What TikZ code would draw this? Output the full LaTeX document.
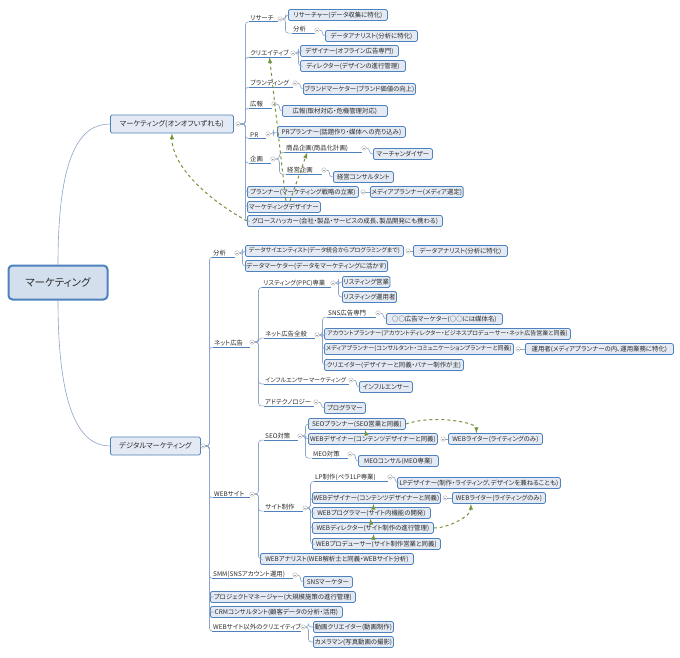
\documentclass[tikz,border=0pt]{standalone}
\usepackage{fontspec}
\setmainfont{Noto Sans CJK JP}[RawFeature=+palt]
\usetikzlibrary{calc,arrows}

\definecolor{boxline}{HTML}{4F81BD}
\definecolor{boxfill}{HTML}{E3EAF3}
\definecolor{linkline}{HTML}{8DA5C8}
\definecolor{relgreen}{HTML}{77933C}
\definecolor{txtgray}{HTML}{2B2B2B}

\tikzset{
  box/.style={draw=boxline, fill=boxfill, rounded corners=1.5pt, line width=0.8pt,
    inner sep=1pt, minimum height=11pt, anchor=west, text=txtgray,
    font=\fontsize{6.4}{7}\selectfont},
  mainbox/.style={box, minimum height=18pt, font=\fontsize{7.3}{8}\selectfont},
  rootbox/.style={draw=boxline, fill=boxfill!90!boxline, rounded corners=4pt, line width=2pt,
    minimum width=99pt, minimum height=34pt, text=txtgray, font=\fontsize{10.5}{12}\selectfont},
  lbl/.style={inner sep=1pt, anchor=west, text=txtgray, font=\fontsize{6.4}{7}\selectfont},
  tight/.style={font=\fontsize{6}{7}\selectfont},
  tog/.style={circle, draw=gray!60, fill=white, minimum size=4.5pt, inner sep=0pt, line width=0.4pt,
    path picture={\draw[gray!70, line width=0.4pt] ([xshift=1pt]path picture bounding box.west)
      -- ([xshift=-1pt]path picture bounding box.east);}},
  conn/.style={draw=linkline, line width=0.6pt, rounded corners=3pt},
  uline/.style={draw=boxline, line width=0.8pt},
  rel/.style={draw=relgreen, dashed, line width=1pt, ->}
}

\begin{document}
\begin{tikzpicture}[x=1pt,y=-1pt,>=latex]
  \path[use as bounding box, fill=white] (0,0) rectangle (680,657);

  % root and main branches
  \node[rootbox] (root) at (58,282.5) {マーケティング};
  \node[mainbox, minimum width=123pt] (mkt) at (110,124) {マーケティング(オンオフいずれも)};
  \node[tog] (tMkt) at (238,124) {};
  \node[mainbox, minimum width=90pt] (dgt) at (110,446) {デジタルマーケティング};
  \node[tog] (tDgt) at (203,446) {};
  \draw[conn] (root.north) .. controls +(0,-110) and +(-30,0) .. (mkt.west);
  \draw[conn] (root.south) .. controls +(0,110) and +(-30,0) .. (dgt.west);

  % marketing (on/off)
  \node[lbl] (lRes) at (249,18) {リサーチ};
  \node[tog] (tRes) at (280,19) {};
  \node[box, minimum width=99pt] (rsch) at (288,15) {リサーチャー(データ収集に特化)};
  \node[lbl] (lAna) at (292,29) {分析};
  \node[tog] (tAna) at (317,30) {};
  \node[box, minimum width=92pt] (anl) at (325,36) {データアナリスト(分析に特化)};
  \node[lbl] (lCre) at (249,53) {クリエイティブ};
  \node[tog] (tCre) at (293,53) {};
  \node[box, minimum width=98pt] (dsn) at (300,51) {デザイナー(オフライン広告専門)};
  \node[box, minimum width=105pt] (drc) at (300,66) {ディレクター(デザインの進行管理)};
  \node[lbl] (lBrd) at (249,83) {ブランディング};
  \node[tog] (tBrd) at (295,83) {};
  \node[box, minimum width=112pt] (bmk) at (303,89) {ブランドマーケター(ブランド価値の向上)};
  \node[lbl] (lPub) at (249,104) {広報};
  \node[tog] (tPub) at (274,104) {};
  \node[box, minimum width=105pt] (pub) at (282,111) {広報(取材対応・危機管理対応)};
  \node[lbl] (lPr) at (249,135) {PR};
  \node[tog] (tPr) at (268,134) {};
  \node[box, minimum width=128pt] (prp) at (277,132) {PRプランナー(話題作り・媒体への売り込み)};
  \node[lbl] (lPln) at (249,159) {企画};
  \node[tog] (tPln) at (273,159) {};
  \node[lbl] (lPrd) at (285,148) {商品企画(商品化計画)};
  \node[tog] (tPrd) at (364,148) {};
  \node[box, minimum width=59pt] (mch) at (373,154) {マーチャンダイザー};
  \node[lbl] (lMgt) at (286,170) {経営企画};
  \node[tog] (tMgt) at (324,170) {};
  \node[box, minimum width=60pt] (mcs) at (333,177) {経営コンサルタント};
  \node[box, minimum width=111pt] (pln) at (247,192) {プランナー(マーケティング戦略の立案)};
  \node[tog] (tPlr) at (363,192) {};
  \node[box, minimum width=92pt] (mdp) at (370,192) {メディアプランナー(メディア選定)};
  \node[box, minimum width=73pt] (mkd) at (247,207) {マーケティングデザイナー};
  \node[box, minimum width=195pt] (grw) at (247,221) {グロースハッカー(会社・製品・サービスの成長、製品開発にも携わる)};

  \draw[conn] (tMkt.east) -- ++(5,0) |- (lRes.south west);
  \draw[conn] (tMkt.east) -- ++(5,0) |- (lCre.south west);
  \draw[conn] (tMkt.east) -- ++(5,0) |- (lBrd.south west);
  \draw[conn] (tMkt.east) -- ++(5,0) |- (lPub.south west);
  \draw[conn] (tMkt.east) -- ++(5,0) |- (lPr.south west);
  \draw[conn] (tMkt.east) -- ++(5,0) |- (lPln.south west);
  \draw[conn] (tMkt.east) -- ++(5,0) |- (pln.west);
  \draw[conn] (tMkt.east) -- ++(5,0) |- (mkd.west);
  \draw[conn] (tMkt.east) -- ++(5,0) |- (grw.west);
  \draw[conn] (tRes.east) -- ++(3,0) |- (rsch.west);
  \draw[conn] (tRes.east) -- ++(3,0) |- (lAna.south west);
  \draw[conn] (tAna.east) -- ++(3,0) |- (anl.west);
  \draw[conn] (tCre.east) -- ++(3,0) |- (dsn.west);
  \draw[conn] (tCre.east) -- ++(3,0) |- (drc.west);
  \draw[conn] (tBrd.east) -- ++(3,0) |- (bmk.west);
  \draw[conn] (tPub.east) -- ++(3,0) |- (pub.west);
  \draw[conn] (tPr.east) -- ++(3,0) |- (prp.west);
  \draw[conn] (tPln.east) -- ++(4,0) |- (lPrd.south west);
  \draw[conn] (tPln.east) -- ++(4,0) |- (lMgt.south west);
  \draw[conn] (tPrd.east) -- ++(3,0) |- (mch.west);
  \draw[conn] (tMgt.east) -- ++(3,0) |- (mcs.west);
  \draw[conn] (tPlr.east) -- (mdp.west);

  \draw[uline] (lRes.south west) -- (lRes.south west -| tRes.west);
  \draw[uline] (lAna.south west) -- (lAna.south west -| tAna.west);
  \draw[uline] (lCre.south west) -- (lCre.south west -| tCre.west);
  \draw[uline] (lBrd.south west) -- (lBrd.south west -| tBrd.west);
  \draw[uline] (lPub.south west) -- (lPub.south west -| tPub.west);
  \draw[uline] (lPr.south west) -- (lPr.south west -| tPr.west);
  \draw[uline] (lPln.south west) -- (lPln.south west -| tPln.west);
  \draw[uline] (lPrd.south west) -- (lPrd.south west -| tPrd.west);
  \draw[uline] (lMgt.south west) -- (lMgt.south west -| tMgt.west);

  \draw[rel] ([xshift=2pt]mkd.north) -- (lCre.south);
  \draw[rel] ([xshift=6pt]mkd.north) -- ([xshift=-10pt]lPrd.south);
  \draw[rel] (grw.west) .. controls +(-45,-25) and +(0,30) .. (mkt.south);

  % digital marketing
  \node[lbl] (lDan) at (212,253) {分析};
  \node[tog] (tDan) at (237,253) {};
  \node[box, tight, minimum width=158pt] (dsc) at (245,251) {データサイエンティスト(データ統合からプログラミングまで)};
  \node[tog] (tDsc) at (408,251) {};
  \node[box, minimum width=94pt] (dan) at (413,251) {データアナリスト(分析に特化)};
  \node[box, minimum width=140pt] (dmk) at (245,266) {データマーケター(データをマーケティングに活かす)};

  \node[lbl] (lNet) at (213,343) {ネット広告};
  \node[tog] (tNet) at (252,342) {};
  \node[lbl] (lLst) at (262,283) {リスティング(PPC)専業};
  \node[tog] (tLst) at (333,283) {};
  \node[box, minimum width=45pt] (lse) at (342,282) {リスティング営業};
  \node[box, minimum width=53pt] (lop) at (342,297) {リスティング運用者};
  \node[lbl] (lAll) at (264,334) {ネット広告全般};
  \node[tog] (tAll) at (317,335) {};
  \node[lbl] (lSns) at (327,313) {SNS広告専門};
  \node[tog] (tSns) at (378,313) {};
  \node[box, minimum width=116pt] (snm) at (386,319) {○○広告マーケター(○○には媒体名)};
  \node[box, tight, minimum width=246pt] (acp) at (324,334) {アカウントプランナー(アカウントディレクター・ビジネスプロデューサー・ネット広告営業と同義)};
  \node[box, tight, minimum width=189pt] (mdq) at (324,349) {メディアプランナー(コンサルタント・コミュニケーションプランナーと同義)};
  \node[tog] (tMdq) at (518,349) {};
  \node[box, minimum width=148pt] (opr) at (525,349) {運用者(メディアプランナーの内、運用業務に特化)};
  \node[box, minimum width=139pt] (crt) at (324,365) {クリエイター(デザイナーと同義・バナー制作が主)};
  \node[lbl, tight] (lInf) at (264,380) {インフルエンサーマーケティング};
  \node[tog] (tInf) at (351,380) {};
  \node[box, minimum width=53pt] (inf) at (359,387) {インフルエンサー};
  \node[lbl] (lAdt) at (264,402) {アドテクノロジー};
  \node[tog] (tAdt) at (316,402) {};
  \node[box, minimum width=41pt] (prg) at (324,408) {プログラマー};

  \node[lbl] (lWeb) at (213,494) {WEBサイト};
  \node[tog] (tWeb) at (252,494) {};
  \node[lbl] (lSeo) at (264,436) {SEO対策};
  \node[tog] (tSeo) at (300,436) {};
  \node[box, minimum width=97pt] (seo) at (308,424) {SEOプランナー(SEO営業と同義)};
  \node[box, minimum width=129pt] (wd1) at (308,439) {WEBデザイナー(コンテンツデザイナーと同義)};
  \node[tog] (tWd1) at (443,439) {};
  \node[box, minimum width=94pt] (ww1) at (448,439) {WEBライター(ライティングのみ)};
  \node[lbl] (lMeo) at (312,454) {MEO対策};
  \node[tog] (tMeo) at (350,454) {};
  \node[box, minimum width=80pt] (meo) at (358,461) {MEOコンサル(MEO専業)};
  \node[lbl] (lSit) at (264,507) {サイト制作};
  \node[tog] (tSit) at (305,508) {};
  \node[lbl] (lLp) at (314,477) {LP制作(ペラ1LP専業)};
  \node[tog] (tLp) at (390,477) {};
  \node[box, minimum width=163pt] (lpd) at (397,483) {LPデザイナー(制作・ライティング、デザインを兼ねることも)};
  \node[box, minimum width=128pt] (wd2) at (312,498) {WEBデザイナー(コンテンツデザイナーと同義)};
  \node[tog] (tWd2) at (445,498) {};
  \node[box, minimum width=93pt] (ww2) at (452,498) {WEBライター(ライティングのみ)};
  \node[box, minimum width=118pt] (wpg) at (312,513) {WEBプログラマー(サイト内機能の開発)};
  \node[box, minimum width=121pt] (wdr) at (312,528) {WEBディレクター(サイト制作の進行管理)};
  \node[box, minimum width=128pt] (wpr) at (312,544) {WEBプロデューサー(サイト制作営業と同義)};
  \node[box, minimum width=153pt] (wan) at (260,559) {WEBアナリスト(WEB解析士と同義・WEBサイト分析)};

  \node[lbl] (lSmm) at (212,574) {SMM(SNSアカウント運用)};
  \node[tog] (tSmm) at (295,575) {};
  \node[box, minimum width=49pt] (snk) at (303,582) {SNSマーケター};
  \node[box, minimum width=145pt] (pjm) at (210,597) {プロジェクトマネージャー(大規模施策の進行管理)};
  \node[box, minimum width=132pt] (crm) at (210,612) {CRMコンサルタント(顧客データの分析・活用)};
  \node[lbl] (lOth) at (212,627) {WEBサイト以外のクリエイティブ};
  \node[tog] (tOth) at (303,627) {};
  \node[box, minimum width=80pt] (mov) at (313,627) {動画クリエイター(動画制作)};
  \node[box, minimum width=80pt] (cam) at (313,642) {カメラマン(写真動画の撮影)};

  \draw[conn] (tDgt.east) -- ++(4,0) |- (lDan.south west);
  \draw[conn] (tDgt.east) -- ++(4,0) |- (lNet.south west);
  \draw[conn] (tDgt.east) -- ++(4,0) |- (lWeb.south west);
  \draw[conn] (tDgt.east) -- ++(4,0) |- (lSmm.south west);
  \draw[conn] (tDgt.east) -- ++(4,0) |- (pjm.west);
  \draw[conn] (tDgt.east) -- ++(4,0) |- (crm.west);
  \draw[conn] (tDgt.east) -- ++(4,0) |- (lOth.south west);
  \draw[conn] (tDan.east) -- ++(3,0) |- (dsc.west);
  \draw[conn] (tDan.east) -- ++(3,0) |- (dmk.west);
  \draw[conn] (tDsc.east) -- (dan.west);
  \draw[conn] (tNet.east) -- ++(4,0) |- (lLst.south west);
  \draw[conn] (tNet.east) -- ++(4,0) |- (lAll.south west);
  \draw[conn] (tNet.east) -- ++(4,0) |- (lInf.south west);
  \draw[conn] (tNet.east) -- ++(4,0) |- (lAdt.south west);
  \draw[conn] (tLst.east) -- ++(3,0) |- (lse.west);
  \draw[conn] (tLst.east) -- ++(3,0) |- (lop.west);
  \draw[conn] (tAll.east) -- ++(3,0) |- (lSns.south west);
  \draw[conn] (tAll.east) -- ++(3,0) |- (acp.west);
  \draw[conn] (tAll.east) -- ++(3,0) |- (mdq.west);
  \draw[conn] (tAll.east) -- ++(3,0) |- (crt.west);
  \draw[conn] (tSns.east) -- ++(3,0) |- (snm.west);
  \draw[conn] (tMdq.east) -- (opr.west);
  \draw[conn] (tInf.east) -- ++(3,0) |- (inf.west);
  \draw[conn] (tAdt.east) -- ++(3,0) |- (prg.west);
  \draw[conn] (tWeb.east) -- ++(4,0) |- (lSeo.south west);
  \draw[conn] (tWeb.east) -- ++(4,0) |- (lSit.south west);
  \draw[conn] (tWeb.east) -- ++(4,0) |- (wan.west);
  \draw[conn] (tSeo.east) -- ++(3,0) |- (seo.west);
  \draw[conn] (tSeo.east) -- ++(3,0) |- (wd1.west);
  \draw[conn] (tSeo.east) -- ++(3,0) |- (lMeo.south west);
  \draw[conn] (tWd1.east) -- (ww1.west);
  \draw[conn] (tMeo.east) -- ++(3,0) |- (meo.west);
  \draw[conn] (tSit.east) -- ++(3,0) |- (lLp.south west);
  \draw[conn] (tSit.east) -- ++(3,0) |- (wd2.west);
  \draw[conn] (tSit.east) -- ++(3,0) |- (wpg.west);
  \draw[conn] (tSit.east) -- ++(3,0) |- (wdr.west);
  \draw[conn] (tSit.east) -- ++(3,0) |- (wpr.west);
  \draw[conn] (tLp.east) -- ++(3,0) |- (lpd.west);
  \draw[conn] (tWd2.east) -- (ww2.west);
  \draw[conn] (tSmm.east) -- ++(3,0) |- (snk.west);
  \draw[conn] (tOth.east) -- ++(3,0) |- (mov.west);
  \draw[conn] (tOth.east) -- ++(3,0) |- (cam.west);

  \draw[uline] (lDan.south west) -- (lDan.south west -| tDan.west);
  \draw[uline] (lNet.south west) -- (lNet.south west -| tNet.west);
  \draw[uline] (lLst.south west) -- (lLst.south west -| tLst.west);
  \draw[uline] (lAll.south west) -- (lAll.south west -| tAll.west);
  \draw[uline] (lSns.south west) -- (lSns.south west -| tSns.west);
  \draw[uline] (lInf.south west) -- (lInf.south west -| tInf.west);
  \draw[uline] (lAdt.south west) -- (lAdt.south west -| tAdt.west);
  \draw[uline] (lWeb.south west) -- (lWeb.south west -| tWeb.west);
  \draw[uline] (lSeo.south west) -- (lSeo.south west -| tSeo.west);
  \draw[uline] (lMeo.south west) -- (lMeo.south west -| tMeo.west);
  \draw[uline] (lSit.south west) -- (lSit.south west -| tSit.west);
  \draw[uline] (lLp.south west) -- (lLp.south west -| tLp.west);
  \draw[uline] (lSmm.south west) -- (lSmm.south west -| tSmm.west);
  \draw[uline] (lOth.south west) -- (lOth.south west -| tOth.west);

  \draw[rel] ([xshift=-7pt]wd1.north) -- ([xshift=8pt]seo.south);
  \draw[rel] (seo.east) .. controls +(30,-10) and +(0,-10) .. ([xshift=-19pt]ww1.north);
  \draw[rel] ([xshift=2pt]wpg.north) -- ([xshift=-3pt]wd2.south);
  \draw[rel] ([xshift=-2pt]wdr.north) -- ([xshift=-1pt]wpg.south);
  \draw[rel] ([xshift=-3pt]wpr.north) -- ([xshift=1pt]wdr.south);
  \draw[rel] (wdr.east) .. controls +(15,0) and +(0,12) .. ([xshift=-28pt]ww2.south);
\end{tikzpicture}
\end{document}
